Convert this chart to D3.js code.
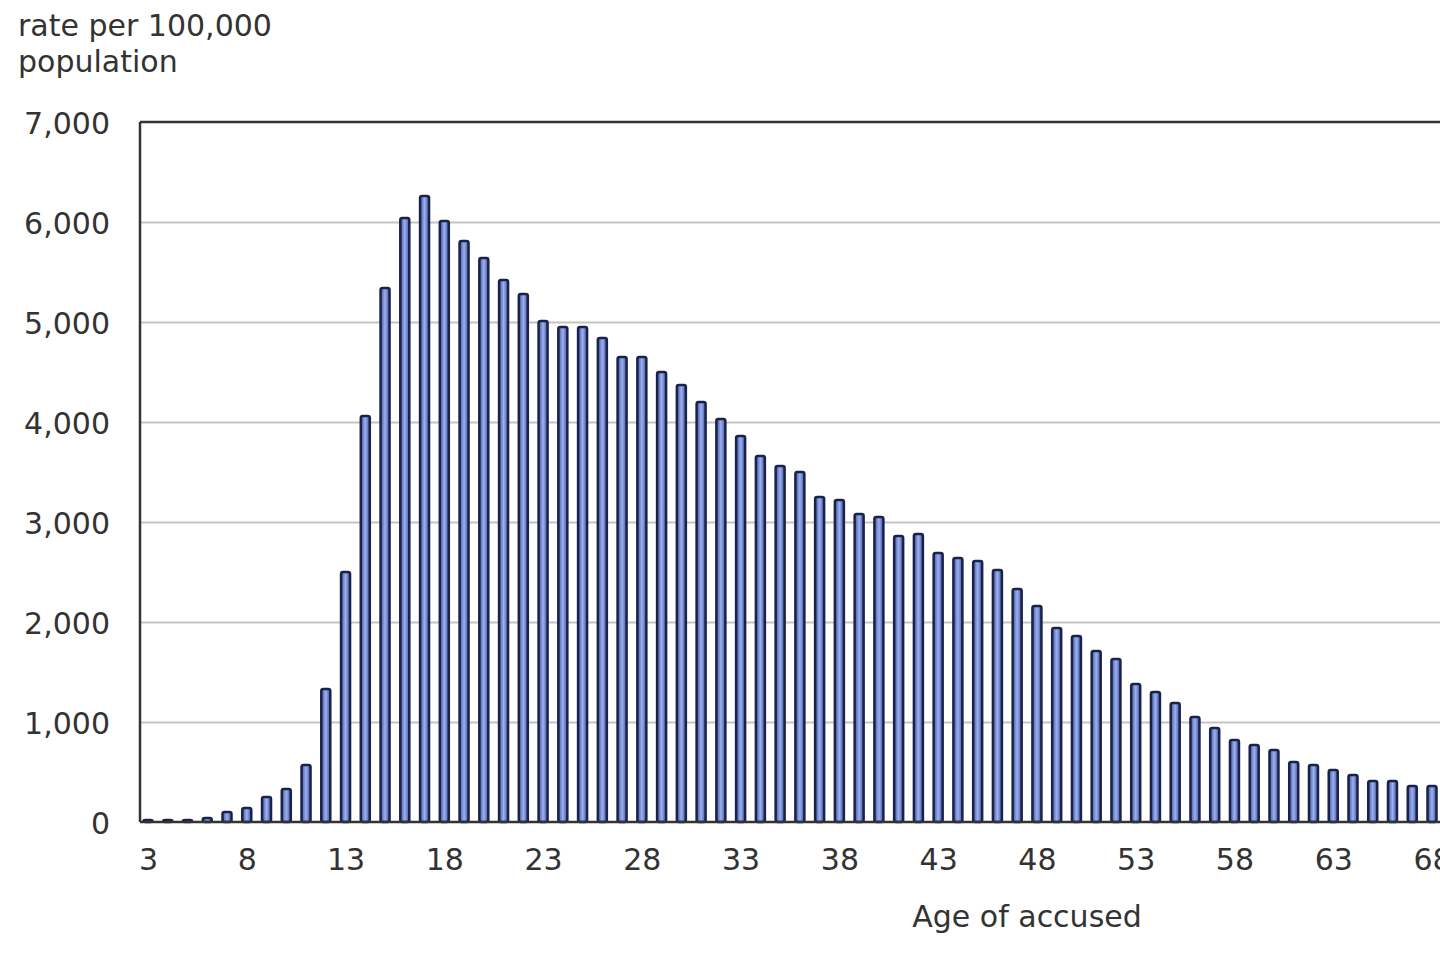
<!DOCTYPE html>
<html>
<head>
<meta charset="utf-8">
<script src="https://cdn.jsdelivr.net/npm/d3@7"></script>
<style>
  html, body { margin: 0; padding: 0; background: #fff; overflow: hidden; }
  svg { display: block; }
  text { font-family: "DejaVu Sans", Verdana, sans-serif; fill: #333; }
</style>
</head>
<body>
<svg id="chart" width="1440" height="967"></svg>
<script>
// ---- data ----
const ages = [3,4,5,6,7,8,9,10,11,12,13,14,15,16,17,18,19,20,21,22,23,24,25,26,27,28,29,30,31,32,33,34,35,36,37,38,39,40,41,42,43,44,45,46,47,48,49,50,51,52,53,54,55,56,57,58,59,60,61,62,63,64,65,66,67,68];
const rates = [20,20,20,40,100,140,250,330,570,1330,2500,4060,5340,6040,6260,6010,5810,5640,5420,5280,5010,4950,4950,4840,4650,4650,4500,4370,4200,4030,3860,3660,3560,3500,3250,3220,3080,3050,2860,2880,2690,2640,2610,2520,2330,2160,1940,1860,1710,1630,1380,1300,1190,1050,940,820,770,720,600,570,520,470,410,410,360,360];
const xTickLabels = [3,8,13,18,23,28,33,38,43,48,53,58,63,68];
const yTickValues = [0,1000,2000,3000,4000,5000,6000,7000];
const yTitleLines = ["rate per 100,000", "population"];
const xTitle = "Age of accused";

// ---- layout ----
const svg = d3.select("#chart");
const plotLeft = 140, plotTop = 122, plotBottom = 822, plotRight = 1460;
const fontSize = 30;

const x = d3.scaleLinear().domain([3, 68]).range([148, 1432]);
const y = d3.scaleLinear().domain([0, 7000]).range([plotBottom, plotTop]);

const fmt = d3.format(",");

// gradient for bars
const defs = svg.append("defs");
const grad = defs.append("linearGradient").attr("id", "barGrad").attr("x1", "0").attr("x2", "1").attr("y1", "0").attr("y2", "0");
grad.append("stop").attr("offset", "0%").attr("stop-color", "#3f53a3");
grad.append("stop").attr("offset", "50%").attr("stop-color", "#9cb1ef");
grad.append("stop").attr("offset", "100%").attr("stop-color", "#3f53a3");

// gridlines
svg.append("g")
  .attr("transform", `translate(${plotLeft},0)`)
  .call(d3.axisLeft(y).tickValues(yTickValues.filter(v => v > 0 && v < 7000)).tickSize(-(plotRight - plotLeft)).tickFormat(""))
  .call(g => g.select(".domain").remove())
  .call(g => g.selectAll("line").attr("stroke", "#c4c4c4").attr("stroke-width", 2));

// y tick labels
svg.append("g")
  .attr("transform", `translate(${plotLeft},2)`)
  .call(d3.axisLeft(y).tickValues(yTickValues).tickSize(0).tickPadding(30).tickFormat(fmt))
  .call(g => g.select(".domain").remove())
  .call(g => g.selectAll("text").attr("font-size", fontSize).attr("fill", "#333").attr("font-family", "DejaVu Sans, Verdana, sans-serif"));

// bars
const barW = 9;
svg.append("g").selectAll("rect")
  .data(ages.map((a, i) => ({ age: a, v: rates[i] })))
  .join("rect")
  .attr("x", d => x(d.age) - barW / 2)
  .attr("y", d => y(d.v))
  .attr("width", barW)
  .attr("height", d => y(0) - y(d.v))
  .attr("fill", "url(#barGrad)")
  .attr("stroke", "#1b2248")
  .attr("stroke-width", 2.5)
  .attr("rx", 2);

// frame: left axis, top border, baseline
svg.append("line").attr("x1", plotLeft).attr("x2", plotLeft).attr("y1", plotTop).attr("y2", plotBottom)
  .attr("stroke", "#333").attr("stroke-width", 2.5);
svg.append("line").attr("x1", plotLeft).attr("x2", plotRight).attr("y1", plotTop).attr("y2", plotTop)
  .attr("stroke", "#333").attr("stroke-width", 2.5);
svg.append("line").attr("x1", plotLeft).attr("x2", plotRight).attr("y1", plotBottom).attr("y2", plotBottom)
  .attr("stroke", "#333").attr("stroke-width", 2.5);

// x tick labels (the last one runs off the right edge, as in the reference)
svg.append("g")
  .attr("transform", `translate(0,${plotBottom})`)
  .call(d3.axisBottom(x).tickValues(xTickLabels).tickSize(0).tickPadding(27).tickFormat(d3.format("d")))
  .call(g => g.select(".domain").remove())
  .call(g => g.selectAll("text").attr("font-size", fontSize).attr("fill", "#333").attr("font-family", "DejaVu Sans, Verdana, sans-serif"));

// axis titles
svg.append("text").attr("x", 1027).attr("y", 927).attr("text-anchor", "middle").attr("font-size", fontSize).text(xTitle);
svg.append("g").selectAll("text").data(yTitleLines).join("text")
  .attr("x", 18).attr("y", (d, i) => 36 + i * 36)
  .attr("font-size", fontSize)
  .text(d => d);
</script>
</body>
</html>
